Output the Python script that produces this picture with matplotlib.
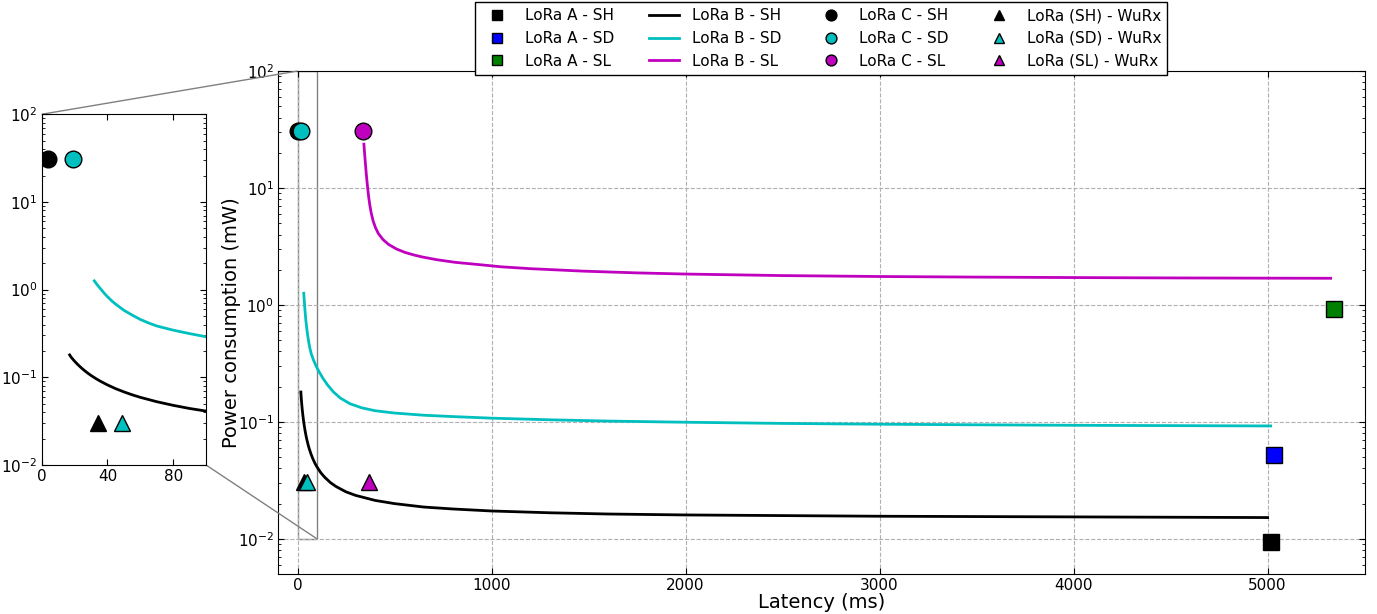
import numpy as np
import matplotlib
matplotlib.use("Agg")
import matplotlib.pyplot as plt
from mpl_toolkits.axes_grid1.inset_locator import mark_inset

plt.rcParams.update({
    "font.family": ["DejaVu Sans"],
    "font.size": 11,
    "axes.labelsize": 14,
    "xtick.direction": "in",
    "ytick.direction": "in",
    "xtick.top": True,
    "ytick.right": True,
    "xtick.major.size": 4,
    "ytick.major.size": 4,
    "xtick.minor.size": 2,
    "ytick.minor.size": 2,
    "xtick.major.pad": 3,
    "ytick.major.pad": 3,
})

# ---- data (latency in ms, power in mW) ----
C_SERIES = ["SH", "SD", "SL"]
COLORS = {"SH": "#000000", "SD": "#00bfbf", "SL": "#bf00bf"}
A_COLORS = {"SH": "#000000", "SD": "#0000ff", "SL": "#008000"}

loraA_latency = [5016, 5031, 5341]
loraA_power = [0.0094, 0.052, 0.925]

loraB_SH_latency = [17, 18, 19, 20, 22, 24, 26, 28, 30, 33, 36, 40, 45, 50, 55, 60, 70, 80,
                    90, 100, 120, 140, 170, 200, 250, 300, 400, 500, 650, 800, 1000, 1300,
                    1600, 2000, 2500, 3000, 3500, 4000, 4500, 5000]
loraB_SH_power = [0.180, 0.1688, 0.1603, 0.1526, 0.1395, 0.1286, 0.1195, 0.1117, 0.1050,
                  0.0966, 0.0896, 0.0819, 0.0742, 0.0682, 0.0632, 0.0591, 0.0527, 0.0479,
                  0.0441, 0.0412, 0.0367, 0.0336, 0.0302, 0.0279, 0.0252, 0.0235, 0.0213,
                  0.0200, 0.0187, 0.0180, 0.0173, 0.0167, 0.0163, 0.0160, 0.0158, 0.0156,
                  0.0155, 0.0154, 0.0153, 0.0152]

loraB_SD_latency = [32, 34, 36, 38, 40, 43, 46, 50, 55, 60, 65, 70, 80, 90, 100, 115, 133,
                    155, 184, 220, 270, 330, 400, 500, 650, 800, 1000, 1300, 1600, 2000,
                    2500, 3000, 3500, 4000, 4500, 5016]
loraB_SD_power = [1.259, 1.122, 1.012, 0.912, 0.832, 0.733, 0.661, 0.582, 0.513, 0.457,
                  0.417, 0.385, 0.345, 0.315, 0.290, 0.261, 0.233, 0.2065, 0.181, 0.160,
                  0.143, 0.132, 0.1245, 0.119, 0.114, 0.111, 0.1076, 0.1042, 0.1016,
                  0.0993, 0.0970, 0.0955, 0.0944, 0.0935, 0.0929, 0.0923]

loraB_SL_latency = [342, 344, 347, 350, 354, 358, 362, 367, 373, 380, 390, 402, 416, 440,
                    468, 510, 554, 600, 640, 720, 814, 934, 1050, 1200, 1473, 1750, 2000,
                    2500, 3000, 3500, 4000, 4500, 5000, 5325]
loraB_SL_power = [23.71, 21.38, 18.41, 15.96, 13.34, 11.35, 9.77, 8.28, 7.05, 6.07, 5.19,
                  4.57, 4.09, 3.63, 3.30, 3.006, 2.812, 2.673, 2.576, 2.432, 2.312, 2.213,
                  2.118, 2.042, 1.945, 1.879, 1.837, 1.782, 1.750, 1.730, 1.714, 1.702,
                  1.694, 1.690]

loraC_latency = [4, 19, 339]
loraC_power = [31, 31, 30.5]

wurx_latency = [34, 49, 368]
wurx_power = [0.0305, 0.0305, 0.0305]

x_ticks = [0, 1000, 2000, 3000, 4000, 5000]
inset_x_ticks = [0, 40, 80]

fig = plt.figure(figsize=(13.77, 6.14), dpi=100)
ax = fig.add_axes([0.202, 0.0651, 0.789, 0.8192])
axins = fig.add_axes([0.0303, 0.2427, 0.1193, 0.5712])

B_data = {"SH": (loraB_SH_latency, loraB_SH_power),
          "SD": (loraB_SD_latency, loraB_SD_power),
          "SL": (loraB_SL_latency, loraB_SL_power)}

handles_A, handles_B, handles_C, handles_W = [], [], [], []
for a in (ax, axins):
    for i, s in enumerate(C_SERIES):
        hA, = a.plot([loraA_latency[i]], [loraA_power[i]], ls="none", marker="s",
                     ms=12, mfc=A_COLORS[s], mec="k", mew=1, label=f"LoRa A - {s}")
        lat, pw = B_data[s]
        hB, = a.plot(lat, pw, color=COLORS[s], lw=2, label=f"LoRa B - {s}")
        hC, = a.plot([loraC_latency[i]], [loraC_power[i]], ls="none", marker="o",
                     ms=12, mfc=COLORS[s], mec="k", mew=1, label=f"LoRa C - {s}")
        hW, = a.plot([wurx_latency[i]], [wurx_power[i]], ls="none", marker="^",
                     ms=12, mfc=COLORS[s], mec="k", mew=1, label=f"LoRa ({s}) - WuRx")
        if a is ax:
            handles_A.append(hA); handles_B.append(hB)
            handles_C.append(hC); handles_W.append(hW)

ax.set_yscale("log")
ax.set_xlim(-100, 5500)
ax.set_ylim(0.005, 100)
ax.set_xticks(x_ticks)
ax.grid(True, which="major", ls="--", color="#b0b0b0", lw=0.8)
ax.set_xlabel("Latency (ms)", labelpad=0)
ax.set_ylabel("Power consumption (mW)", labelpad=-2)

axins.set_yscale("log")
axins.set_xlim(0, 100)
axins.set_ylim(0.01, 100)
axins.set_xticks(inset_x_ticks)

mark_inset(ax, axins, loc1=2, loc2=4, fc="none", ec="0.5", lw=1)

handles = handles_A + handles_B + handles_C + handles_W
leg = ax.legend(handles=handles, loc="upper center", bbox_to_anchor=(0.5, 1.137),
                ncol=4, fontsize=11, fancybox=False, framealpha=1, edgecolor="k",
                markerscale=0.65, handlelength=2.0, handletextpad=0.85,
                numpoints=1, borderaxespad=0, borderpad=0.4, columnspacing=2.25)
leg.get_frame().set_linewidth(1)

fig.savefig("out.png", dpi=100)
